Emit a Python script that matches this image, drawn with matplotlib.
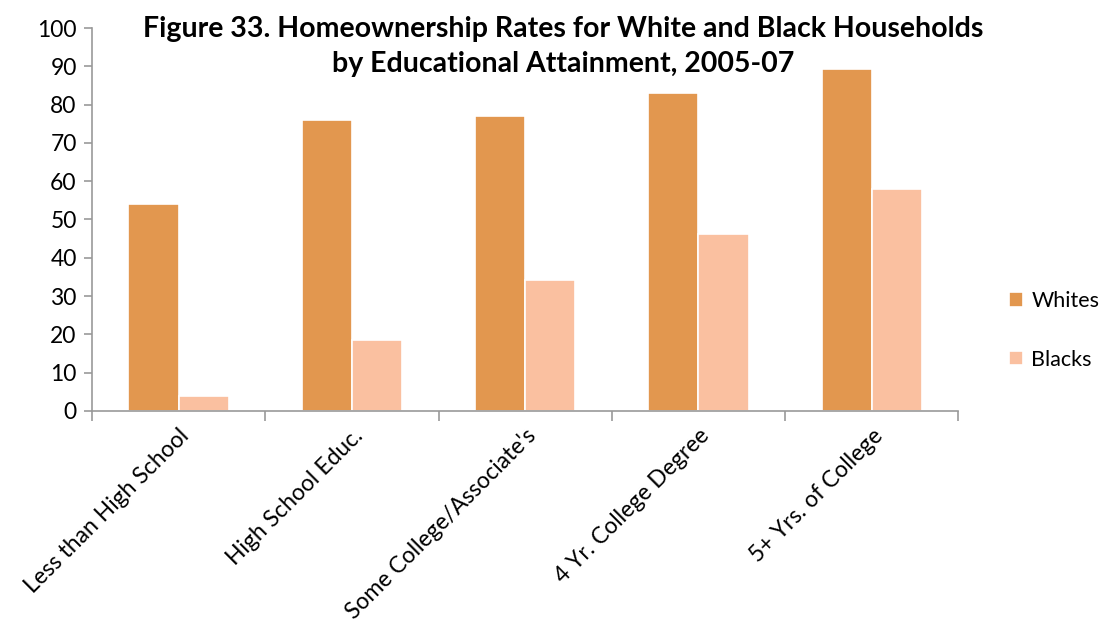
import matplotlib.pyplot as plt
import numpy as np

plt.rcParams['font.family'] = ['Lato', 'DejaVu Sans']

# Data
categories = ['Less than High School', 'High School Educ.', "Some College/Associate's",
              '4 Yr. College Degree', '5+ Yrs. of College']
whites = [54, 76, 77, 83, 89.3]
blacks = [4, 18.5, 34.2, 46.2, 58]

x = np.arange(len(categories))
w = 0.29

fig = plt.figure(figsize=(11.08, 6.38), dpi=100)
ax = fig.add_axes([0.083, 0.356, 0.782, 0.600])

ax.bar(x - w / 2, whites, w, color='#E2974F', edgecolor='white', linewidth=1.2, label='Whites')
ax.bar(x + w / 2, blacks, w, color='#FAC0A0', edgecolor='white', linewidth=1.2, label='Blacks')

ax.set_xlim(-0.5, len(categories) - 0.5)
ax.set_ylim(0, 100)
ax.set_yticks(range(0, 101, 10))
ax.tick_params(axis='y', labelsize=16.5, length=6, color='#999999', width=1.2, pad=5)

# category labels under the centers, ticks at the boundaries
ax.set_xticks(np.arange(-0.5, len(categories), 1.0))
ax.set_xticklabels([])
ax.tick_params(axis='x', length=7, color='#999999', width=1.2)
ax.set_xticks(x, minor=True)
ax.set_xticklabels(categories, minor=True, rotation=45, ha='right', rotation_mode='anchor', fontsize=16.5)
ax.tick_params(axis='x', which='minor', length=0, pad=10)

for s in ['top', 'right']:
    ax.spines[s].set_visible(False)
for s in ['left', 'bottom']:
    ax.spines[s].set_color('#999999')
    ax.spines[s].set_linewidth(1.2)

fig.text(0.508, 0.927, 'Figure 33. Homeownership Rates for White and Black Households\nby Educational Attainment, 2005-07',
         ha='center', va='center', fontsize=20.5, fontweight='bold', linespacing=1.4)

ax.legend(loc='center left', bbox_to_anchor=(1.058, 0.21), frameon=False, fontsize=15.5,
          handlelength=0.65, handleheight=0.65, labelspacing=1.8, handletextpad=0.4,
          borderaxespad=0, borderpad=0)

fig.savefig('out.png', dpi=100)
